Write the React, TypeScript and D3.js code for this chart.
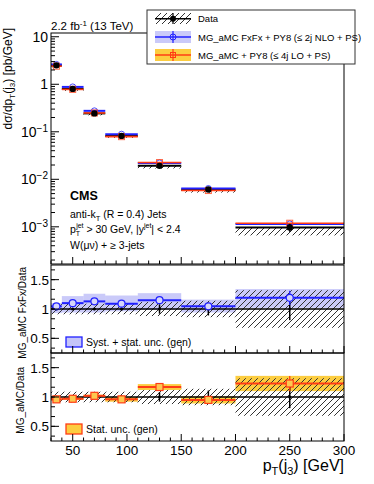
import React from 'react';
import * as d3 from 'd3';

// pT(j3) binning and values
const binEdges = [30, 40, 60, 80, 110, 150, 200, 300];
const dataXsec = [2.5, 0.8, 0.244, 0.082, 0.0192, 0.0061, 0.00097];
const dataStatRel = [0.015, 0.015, 0.02, 0.025, 0.08, 0.11, 0.19];
const dataSystRel = [0.09, 0.09, 0.09, 0.09, 0.12, 0.14, 0.32];

const fxfxXsec = [2.62, 0.88, 0.276, 0.089, 0.0221, 0.0064, 0.00115];
const fxfxRatio = [1.045, 1.1, 1.13, 1.09, 1.15, 1.045, 1.19];
const fxfxBandLo = [0.93, 0.94, 0.94, 0.96, 0.99, 0.94, 1.02];
const fxfxBandHi = [1.1, 1.22, 1.26, 1.23, 1.27, 1.16, 1.34];
const fxfxErr = [0.02, 0.02, 0.02, 0.02, 0.03, 0.05, 0.12];

const loXsec = [2.4, 0.78, 0.249, 0.079, 0.0225, 0.0058, 0.00119];
const loRatio = [0.96, 0.97, 1.02, 0.96, 1.17, 0.95, 1.23];
const loBand = [0.02, 0.02, 0.02, 0.04, 0.05, 0.06, 0.13];
const loErr = [0.02, 0.02, 0.02, 0.03, 0.04, 0.05, 0.13];

const xMajor = [50, 100, 150, 200, 250, 300];
const ratioMajor = [0.5, 1, 1.5];

const FONT = '"Liberation Sans", Arial, Helvetica, sans-serif';
const BLUE = '#2020ff';
const BLUE_BAND = 'rgba(90, 90, 235, 0.32)';
const RED = '#ff3c14';
const GOLD = 'rgba(252, 196, 30, 0.85)';

const left = 51;
const right = 344;
const mainTop = 33;
const mainBottom = 264;
const r1Top = 265;
const r1Bottom = 353;
const r2Top = 353;
const r2Bottom = 441;

const x = d3.scaleLinear().domain([30, 300]).range([left, right]);
const y = d3.scaleLog().domain([1.65e-4, 12]).range([mainBottom, mainTop]);
const yr1 = d3.scaleLinear().domain([0.25, 1.75]).range([r1Bottom, r1Top]);
const yr2 = d3.scaleLinear().domain([0.25, 1.75]).range([r2Bottom, r2Top]);

const bins = binEdges.slice(0, -1).map((lo, i) => ({
  lo,
  hi: binEdges[i + 1],
  c: (lo + binEdges[i + 1]) / 2,
  i,
}));

const XTicks = ({ yPos }) => (
  <g stroke="#000" strokeWidth={1}>
    {d3.range(30, 301, 10).map(v => {
      const len = xMajor.includes(v) ? 7 : 3.5;
      return <line key={v} x1={x(v)} x2={x(v)} y1={yPos} y2={yPos - len} />;
    })}
  </g>
);

const RatioTicks = ({ ys }) => {
  const minor = d3.range(-4, 5).map(k => 1 + k / 6).filter(v => v > 0.25 && v < 1.75);
  return (
    <g>
      {minor.map(v => (
        <line key={'m' + v} x1={left} x2={left + 4} y1={ys(v)} y2={ys(v)} stroke="#000" />
      ))}
      {ratioMajor.map(v => (
        <g key={v}>
          <line x1={left} x2={left + 8} y1={ys(v)} y2={ys(v)} stroke="#000" />
          <text x={49} y={ys(v) + 5} textAnchor="end" fontSize={13.5}>{String(v)}</text>
        </g>
      ))}
    </g>
  );
};

const Hatch = ({ x0, x1, y0, y1 }) => (
  <rect x={x0} y={Math.min(y0, y1)} width={x1 - x0} height={Math.abs(y1 - y0)} fill="url(#hatch)" />
);

const RatioPanel = ({ ys, top, bottom, ratio, bandLo, bandHi, err, kind, legendText }) => (
  <g>
    {bins.map(b => (
      <rect
        key={'band' + b.i}
        x={x(b.lo)}
        width={x(b.hi) - x(b.lo)}
        y={ys(bandHi[b.i])}
        height={ys(bandLo[b.i]) - ys(bandHi[b.i])}
        fill={kind === 'fxfx' ? BLUE_BAND : GOLD}
      />
    ))}
    {bins.map(b => (
      <Hatch key={'h' + b.i} x0={x(b.lo)} x1={x(b.hi)} y0={ys(1 - dataSystRel[b.i])} y1={ys(1 + dataSystRel[b.i])} />
    ))}
    <line x1={left} x2={right} y1={ys(1)} y2={ys(1)} stroke="#000" strokeWidth={1.3} />
    {bins.map(b => (
      <g key={'d' + b.i}>
        <line x1={x(b.c)} x2={x(b.c)} y1={ys(1 - dataStatRel[b.i])} y2={ys(1 + dataStatRel[b.i])} stroke="#000" strokeWidth={1.5} />
        <circle cx={x(b.c)} cy={ys(1)} r={1.5} fill="#000" />
      </g>
    ))}
    {bins.map(b => {
      const col = kind === 'fxfx' ? BLUE : RED;
      const yv = ys(ratio[b.i]);
      return (
        <g key={'m' + b.i}>
          <line x1={x(b.lo)} x2={x(b.hi)} y1={yv} y2={yv} stroke={col} strokeWidth={2} />
          <line x1={x(b.c)} x2={x(b.c)} y1={ys(ratio[b.i] - err[b.i])} y2={ys(ratio[b.i] + err[b.i])} stroke={col} strokeWidth={1.3} />
          {kind === 'fxfx' ? (
            <circle cx={x(b.c)} cy={yv} r={3.5} fill="#d6d6fa" stroke={col} strokeWidth={1.2} />
          ) : (
            <rect x={x(b.c) - 3.5} y={yv - 3.5} width={7} height={7} fill="#fcc850" stroke={col} strokeWidth={1.2} />
          )}
        </g>
      );
    })}
    <rect
      x={66}
      y={kind === 'fxfx' ? 337 : 424}
      width={16}
      height={10}
      fill={kind === 'fxfx' ? 'rgba(90, 90, 235, 0.35)' : GOLD}
      stroke={kind === 'fxfx' ? BLUE : RED}
      strokeWidth={1.3}
    />
    <text x={86} y={kind === 'fxfx' ? 346 : 433} fontSize={10.5}>{legendText}</text>
    <RatioTicks ys={ys} />
    <XTicks yPos={bottom} />
    <rect x={left} y={top} width={right - left} height={bottom - top} fill="none" stroke="#000" strokeWidth={1} />
  </g>
);

const MainPanel = () => {
  const ticks = y.ticks();
  const isMajor = v => Math.abs(Math.log10(v) - Math.round(Math.log10(v))) < 1e-9;
  return (
    <g>
      {bins.map(b => (
        <Hatch key={'h' + b.i} x0={x(b.lo)} x1={x(b.hi)} y0={y(dataXsec[b.i])} y1={y(dataXsec[b.i] * (1 - dataSystRel[b.i]))} />
      ))}
      {bins.map(b => (
        <g key={'d' + b.i}>
          <line x1={x(b.lo)} x2={x(b.hi)} y1={y(dataXsec[b.i])} y2={y(dataXsec[b.i])} stroke="#000" strokeWidth={2} />
        </g>
      ))}
      {bins.map(b => (
        <g key={'f' + b.i}>
          <line x1={x(b.lo)} x2={x(b.hi)} y1={y(fxfxXsec[b.i])} y2={y(fxfxXsec[b.i])} stroke={BLUE} strokeWidth={2} />
          <circle cx={x(b.c)} cy={y(fxfxXsec[b.i])} r={3} fill="none" stroke={BLUE} strokeWidth={1} opacity={0.8} />
        </g>
      ))}
      {bins.map(b => (
        <g key={'l' + b.i}>
          <line x1={x(b.lo)} x2={x(b.hi)} y1={y(loXsec[b.i])} y2={y(loXsec[b.i])} stroke={RED} strokeWidth={1.6} />
          <rect x={x(b.c) - 3} y={y(loXsec[b.i]) - 3} width={6} height={6} fill="none" stroke={RED} strokeWidth={1} opacity={0.8} />
        </g>
      ))}
      {bins.map(b => (
        <g key={'dm' + b.i}>
          <line
            x1={x(b.c)}
            x2={x(b.c)}
            y1={y(dataXsec[b.i] * (1 - dataStatRel[b.i]))}
            y2={y(dataXsec[b.i] * (1 + dataStatRel[b.i]))}
            stroke="#000"
            strokeWidth={1.5}
          />
          <circle cx={x(b.c)} cy={y(dataXsec[b.i])} r={3.2} fill="#000" />
        </g>
      ))}
      {ticks.map((v, k) => (
        <line key={k} x1={left} x2={left + (isMajor(v) ? 8 : 4)} y1={y(v)} y2={y(v)} stroke="#000" />
      ))}
      {ticks.filter(isMajor).map(v => {
        const e = Math.round(Math.log10(v));
        if (e === 1) return <text key={v} x={48} y={y(v) + 5} textAnchor="end" fontSize={14}>10</text>;
        if (e === 0) return <text key={v} x={48} y={y(v) + 5} textAnchor="end" fontSize={14}>1</text>;
        return (
          <text key={v} x={48} y={y(v) + 5} textAnchor="end" fontSize={14}>
            10<tspan dy={-5} fontSize={10}>{'\u2212' + Math.abs(e)}</tspan>
          </text>
        );
      })}
      <XTicks yPos={mainBottom} />
      <rect x={left} y={mainTop} width={right - left} height={mainBottom - mainTop} fill="none" stroke="#000" strokeWidth={1} />
    </g>
  );
};

const Legend = () => (
  <g fontSize={9.5}>
    <rect x={147} y={10} width={208} height={54} fill="#fff" stroke="#333" strokeWidth={1} />
    <rect x={155} y={13} width={36} height={11} fill="url(#hatch)" />
    <line x1={155} x2={191} y1={18.7} y2={18.7} stroke="#000" strokeWidth={1.5} />
    <line x1={173} x2={173} y1={13} y2={24} stroke="#000" strokeWidth={1.2} />
    <circle cx={173} cy={18.7} r={3} fill="#000" />
    <text x={198} y={22}>Data</text>

    <rect x={155} y={31} width={36} height={12} fill={BLUE_BAND} />
    <line x1={155} x2={191} y1={37} y2={37} stroke={BLUE} strokeWidth={1.5} />
    <line x1={173} x2={173} y1={31} y2={43} stroke={BLUE} strokeWidth={1.2} />
    <circle cx={173} cy={37} r={3} fill="none" stroke={BLUE} />
    <text x={198} y={40.5}>MG_aMC FxFx + PY8 (≤ 2j NLO + PS)</text>

    <rect x={155} y={49} width={36} height={12} fill={GOLD} />
    <line x1={155} x2={191} y1={55} y2={55} stroke={RED} strokeWidth={1.5} />
    <line x1={173} x2={173} y1={49} y2={61} stroke={RED} strokeWidth={1.2} />
    <rect x={170.5} y={52.5} width={5} height={5} fill="none" stroke={RED} />
    <text x={198} y={58.5}>MG_aMC + PY8 (≤ 4j LO + PS)</text>
  </g>
);

export default function App() {
  return (
    <svg
      width={374}
      height={484}
      style={{ position: 'absolute', left: 0, top: 0, background: '#fff' }}
      fontFamily={FONT}
    >
      <defs>
        <pattern id="hatch" patternUnits="userSpaceOnUse" width={6} height={6}>
          <path d="M0,6 L6,0 M-1,1 L1,-1 M5,7 L7,5" stroke="#333" strokeWidth={1} />
        </pattern>
      </defs>
      <rect width={374} height={484} fill="#fff" />

      <MainPanel />
      <RatioPanel
        ys={yr1}
        top={r1Top}
        bottom={r1Bottom}
        ratio={fxfxRatio}
        bandLo={fxfxBandLo}
        bandHi={fxfxBandHi}
        err={fxfxErr}
        kind="fxfx"
        legendText="Syst. + stat. unc. (gen)"
      />
      <RatioPanel
        ys={yr2}
        top={r2Top}
        bottom={r2Bottom}
        ratio={loRatio}
        bandLo={loRatio.map((r, i) => r - loBand[i])}
        bandHi={loRatio.map((r, i) => r + loBand[i])}
        err={loErr}
        kind="lo"
        legendText="Stat. unc. (gen)"
      />

      {xMajor.map(v => (
        <text key={v} x={x(v)} y={455} textAnchor="middle" fontSize={13.5}>{v}</text>
      ))}

      <Legend />

      <text x={51} y={30} fontSize={11.5}>
        2.2 fb<tspan dy={-4} fontSize={8}>-1</tspan><tspan dy={4}> (13 TeV)</tspan>
      </text>

      <text x={70} y={200} fontSize={12.5} fontWeight="bold">CMS</text>
      <text x={70} y={218} fontSize={10.5}>
        anti-k<tspan dy={3} fontSize={7.5}>T</tspan><tspan dy={-3}> (R = 0.4) Jets</tspan>
      </text>
      <text x={70} y={233} fontSize={10.5}>
        p<tspan dy={3} fontSize={7}>T</tspan>
        <tspan dx={-4} dy={-8} fontSize={7}>jet</tspan>
        <tspan dy={5}> &gt; 30 GeV, |y</tspan>
        <tspan dy={-5} fontSize={7}>jet</tspan>
        <tspan dy={5}>| &lt; 2.4</tspan>
      </text>
      <text x={70} y={249} fontSize={10.5}>W(μν) + ≥ 3-jets</text>

      <text transform="translate(12, 28) rotate(-90)" textAnchor="end" fontSize={12}>
        dσ/dp<tspan dy={3} fontSize={8}>T</tspan><tspan dy={-3}>(j</tspan>
        <tspan dy={3} fontSize={8}>3</tspan><tspan dy={-3}>)  [pb/GeV]</tspan>
      </text>
      <text transform="translate(26, 267) rotate(-90)" textAnchor="end" fontSize={10}>MG_aMC FxFx/Data</text>
      <text transform="translate(24, 367) rotate(-90)" textAnchor="end" fontSize={10}>MG_aMC/Data</text>

      <text x={344} y={471} textAnchor="end" fontSize={16}>
        p<tspan dy={4} fontSize={11}>T</tspan><tspan dy={-4}>(j</tspan>
        <tspan dy={4} fontSize={11}>3</tspan><tspan dy={-4}>) [GeV]</tspan>
      </text>
    </svg>
  );
}
